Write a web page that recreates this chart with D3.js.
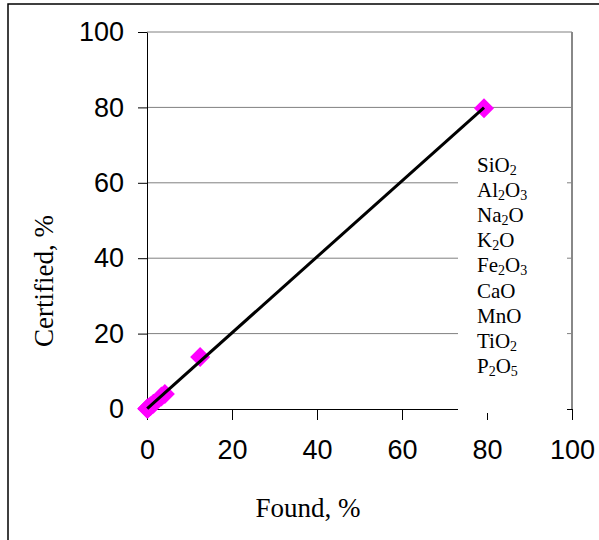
<!DOCTYPE html>
<html>
<head>
<meta charset="utf-8">
<script src="https://cdn.jsdelivr.net/npm/d3@7"></script>
<style>
  body { margin: 0; background: #fff; }
</style>
</head>
<body>
<div id="chart"></div>
<script>
// oxide data: found vs certified, %
var oxides    = ["SiO2", "Al2O3", "Na2O", "K2O", "Fe2O3", "CaO", "MnO", "TiO2", "P2O5"];
var found     = [79.3, 12.5, 4.2, 3.4, 1.5, 0.8, 0.05, 0.3, 0.1];
var certified = [79.8, 13.8, 4.0, 3.3, 1.4, 0.7, 0.05, 0.25, 0.1];
var ticks     = [0, 20, 40, 60, 80, 100];

var W = 599, H = 540;
var margin = {top: 32, right: 27, bottom: 131, left: 147};
var width = W - margin.left - margin.right,
    height = H - margin.top - margin.bottom;

var svg = d3.select("#chart").append("svg")
    .attr("width", W)
    .attr("height", H);

// outer frame (right and bottom edges fall outside the picture)
svg.append("rect")
    .attr("x", 8).attr("y", 4)
    .attr("width", W).attr("height", H)
    .attr("fill", "none")
    .attr("stroke", "#000")
    .attr("stroke-width", 1.5);

var g = svg.append("g")
    .attr("transform", "translate(" + margin.left + "," + margin.top + ")");

var x = d3.scaleLinear().domain([0, 100]).range([0, width]);
var y = d3.scaleLinear().domain([0, 100]).range([height, 0]);

// gridlines
g.selectAll(".grid")
  .data(ticks.slice(1))
  .enter().append("line")
    .attr("x1", 0).attr("x2", width)
    .attr("y1", function(d) { return y(d); })
    .attr("y2", function(d) { return y(d); })
    .attr("stroke", "#808080")
    .attr("stroke-width", 1);

// right border of plot area
g.append("line")
    .attr("x1", width).attr("x2", width)
    .attr("y1", 0).attr("y2", height)
    .attr("stroke", "#888")
    .attr("stroke-width", 2);

// axes
var xAxis = d3.axisBottom(x).tickValues(ticks).tickSize(11).tickPadding(25).tickSizeOuter(0);
var yAxis = d3.axisLeft(y).tickValues(ticks).tickSize(9).tickPadding(14).tickSizeOuter(0);

var gx = g.append("g")
    .attr("transform", "translate(0," + height + ")")
    .call(xAxis);
var gy = g.append("g").call(yAxis);

[gx, gy].forEach(function(a) {
  a.selectAll("text")
    .attr("font-family", "Liberation Sans, Arial, sans-serif")
    .attr("font-size", 27)
    .attr("fill", "#000");
  a.selectAll("line").attr("stroke", "#000");
  a.select(".domain").attr("stroke", "#000");
});
gx.selectAll("text").attr("dy", "0.5em");

// least squares line through the points
var pts = found.map(function(f, i) { return [f, certified[i]]; });
var mx = d3.mean(found), my = d3.mean(certified);
var slope = d3.sum(pts, function(p) { return (p[0] - mx) * (p[1] - my); }) /
            d3.sum(pts, function(p) { return (p[0] - mx) * (p[0] - mx); });
var icpt = my - slope * mx;
var x0 = d3.min(found), x1 = d3.max(found);

// markers
var diamond = d3.symbol().type(d3.symbolSquare).size(200);
g.selectAll(".pt")
  .data(pts)
  .enter().append("path")
    .attr("d", diamond)
    .attr("transform", function(d) { return "translate(" + x(d[0]) + "," + y(d[1]) + ") rotate(45)"; })
    .attr("fill", "#ff00ff");

g.append("line")
    .attr("x1", x(x0)).attr("y1", y(icpt + slope * x0))
    .attr("x2", x(x1)).attr("y2", y(icpt + slope * x1))
    .attr("stroke", "#000")
    .attr("stroke-width", 3);

// legend (text only)
var legend = svg.append("g");
legend.append("rect")
    .attr("x", 458).attr("y", 142)
    .attr("width", 109).attr("height", 271)
    .attr("fill", "#fff");

var lt = legend.selectAll(".lg")
  .data(oxides)
  .enter().append("text")
    .attr("x", 477)
    .attr("y", function(d, i) { return 172 + i * 25.1; })
    .attr("font-family", "Liberation Serif, Times New Roman, serif")
    .attr("font-size", 21)
    .attr("fill", "#000");

lt.each(function(d) {
  var t = d3.select(this);
  var parts = d.match(/[A-Za-z]+|\d+/g);
  parts.forEach(function(p, k) {
    if (/\d/.test(p)) {
      t.append("tspan").attr("font-size", 14).attr("dy", 3).text(p);
    } else {
      var s = t.append("tspan").text(p);
      if (k > 0) s.attr("dy", -3);
    }
  });
});

// axis titles
svg.append("text")
    .attr("x", 308)
    .attr("y", 517)
    .attr("text-anchor", "middle")
    .attr("font-family", "Liberation Serif, Times New Roman, serif")
    .attr("font-size", 27)
    .text("Found, %");

svg.append("text")
    .attr("transform", "translate(53,281) rotate(-90)")
    .attr("text-anchor", "middle")
    .attr("font-family", "Liberation Serif, Times New Roman, serif")
    .attr("font-size", 27)
    .text("Certified, %");
</script>
</body>
</html>
